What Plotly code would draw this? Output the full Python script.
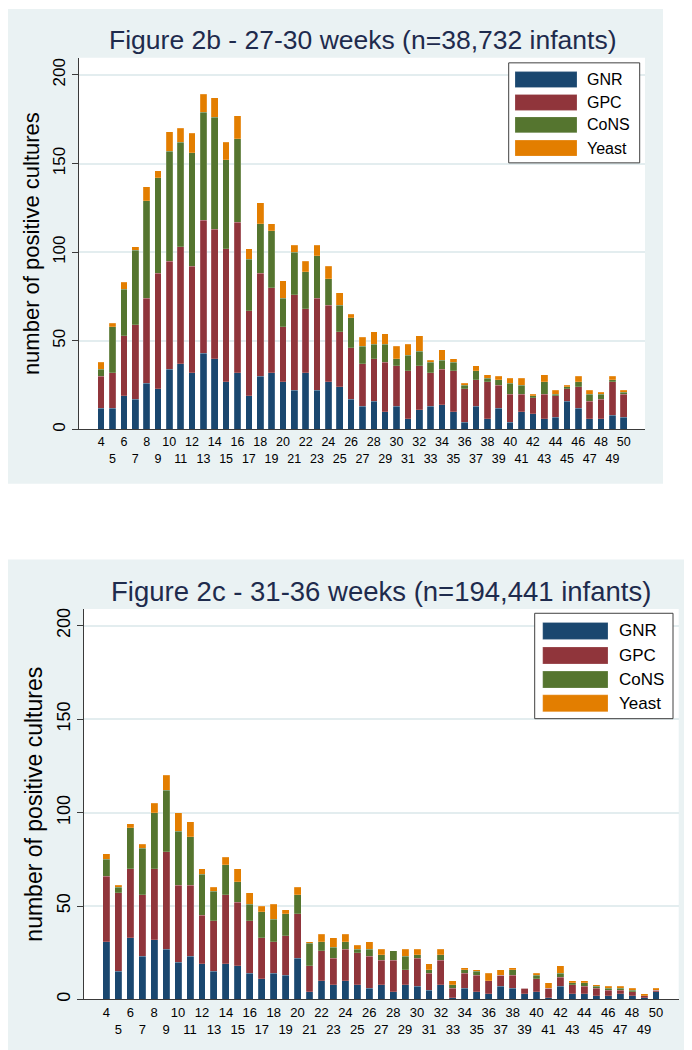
import plotly.graph_objects as go

W, H = 692, 1050

# ---------------- data ----------------
weeks = list(range(4, 51))
series_names = ["GNR", "GPC", "CoNS", "Yeast"]
series_colors = ["#1a476f", "#90353b", "#55752f", "#e37e00"]

# Figure 2b - 27-30 weeks
gnr_b = [12, 12, 19, 17, 26, 23, 34, 37, 32, 43, 40, 27, 32, 19, 30, 32, 27, 22, 32, 22, 27, 24, 17, 13,
         16, 10, 13, 6, 11, 13, 14, 10, 4, 13, 6, 12, 4, 10, 9, 6, 7, 16, 12, 6, 6, 8, 7]
gpc_b = [18, 20, 34, 42, 48, 65, 61, 66, 60, 75, 73, 75, 85, 48, 58, 48, 31, 54, 36, 52, 43, 31, 29, 24,
         24, 28, 23, 27, 25, 19, 20, 23, 19, 15, 21, 13, 16, 10, 9, 14, 12, 7, 12, 10, 11, 19, 13]
cons_b = [4, 26, 26, 42, 55, 54, 62, 59, 64, 61, 63, 50, 47, 29, 28, 32, 16, 24, 21, 24, 15, 15, 17, 10,
          8, 10, 4, 9, 8, 6, 5, 5, 2, 5, 2, 3, 6, 5, 1, 7, 1, 1, 3, 4, 3, 1, 1]
yeast_b = [4, 2, 4, 2, 8, 4, 11, 8, 11, 10, 11, 10, 13, 6, 12, 4, 10, 4, 6, 6, 7, 7, 2, 5,
           7, 6, 7, 6, 9, 1, 6, 2, 1, 3, 2, 2, 3, 4, 1, 4, 2, 1, 3, 2, 1, 2, 1]

# Figure 2c - 31-36 weeks
gnr_c = [31, 15, 33, 23, 32, 27, 20, 23, 19, 15, 19, 18, 14, 11, 14, 13, 22, 4, 10, 8, 10, 8, 6, 8,
         4, 8, 7, 5, 8, 1, 6, 4, 3, 7, 6, 3, 4, 1, 7, 3, 3, 2, 2, 3, 2, 1, 4]
gpc_c = [35, 42, 37, 33, 38, 52, 41, 38, 26, 27, 37, 34, 28, 22, 17, 21, 24, 14, 16, 14, 17, 17, 17, 13,
         17, 8, 15, 9, 13, 5, 8, 9, 7, 6, 7, 3, 7, 5, 5, 5, 4, 4, 3, 2, 2, 1, 1]
cons_c = [9, 3, 22, 25, 30, 33, 29, 26, 22, 16, 16, 11, 9, 14, 12, 12, 10, 12, 5, 6, 4, 2, 4, 3,
          5, 7, 2, 2, 3, 2, 2, 2, 0, 0, 3, 0, 2, 0, 2, 1, 2, 1, 1, 1, 1, 0, 0]
yeast_c = [3, 1, 2, 2, 5, 8, 10, 8, 3, 2, 4, 7, 6, 3, 8, 2, 4, 1, 4, 5, 4, 2, 4, 3,
           0, 4, 3, 3, 3, 2, 1, 1, 4, 3, 1, 0, 1, 3, 4, 1, 1, 1, 1, 1, 1, 1, 1]

y_ticks = [0, 50, 100, 150, 200]
# staggered week labels: even weeks on the first row, odd weeks on the second row
x_ticktext = [str(w) if w % 2 == 0 else "<br>" + str(w) for w in weeks]
title_b = "Figure 2b - 27-30 weeks (n=38,732 infants)"
title_c = "Figure 2c - 31-36 weeks (n=194,441 infants)"
y_title = "number of positive cultures"

# ---------------- helpers ----------------
def px(x):
    return x / W


def py(y):
    return 1 - y / H


FONT = "Arial, 'Liberation Sans', Helvetica, sans-serif"
BG = "#eaf2f3"
GRID = "#e3edef"
AXC = "#3a3a3a"

fig = go.Figure()

panels = [
    dict(data=[gnr_b, gpc_b, cons_b, yeast_b], xa="x", ya="y"),
    dict(data=[gnr_c, gpc_c, cons_c, yeast_c], xa="x2", ya="y2"),
]
for p in panels:
    for name, col, vals in zip(series_names, series_colors, p["data"]):
        fig.add_trace(go.Bar(
            x=weeks, y=vals, name=name, xaxis=p["xa"], yaxis=p["ya"],
            marker=dict(color=col, line=dict(color="rgba(255,255,255,0.35)", width=0.5)),
            width=0.58, showlegend=False,
            hovertemplate=name + " week %{x}: %{y}<extra></extra>",
        ))

# panel geometry (pixels)
top = dict(bg=(0, 0, 655, 476), plot=(71, 49, 637, 421.7), xr=[2.05, 51.87], yr=[0, 209.6],
           tf=12.5, yf=17, titlef=26.5, ytf=22, title_y=31,
           leg_box=(500.7, 54, 631.7, 154.3), sw=(507, 569), rows=[70.8, 93.7, 116.2, 139.5], swh=16,
           tx=577, lf=16, title=title_b)
bot = dict(bg=(0, 552, 692, 1050), plot=(75.7, 601.7, 670.7, 993.3), xr=[2.1, 51.9], yr=[0, 209],
           tf=13, yf=18, titlef=27.5, ytf=23, title_y=584,
           leg_box=(526.7, 606, 665, 711.7), sw=(534.7, 600), rows=[623.7, 648.3, 672.5, 696.3], swh=17,
           tx=609, lf=17, title=title_c)

shapes = []
annotations = []
layout_axes = {}

for i, g in enumerate([top, bot]):
    bx0, by0, bx1, by1 = g["bg"]
    shapes.append(dict(type="rect", xref="paper", yref="paper", x0=px(bx0), x1=px(bx1),
                       y0=py(by1), y1=py(by0), fillcolor=BG, line=dict(width=0), layer="below"))
    x0, y0, x1, y1 = g["plot"]
    shapes.append(dict(type="rect", xref="paper", yref="paper", x0=px(x0), x1=px(x1),
                       y0=py(y1), y1=py(y0), fillcolor="white", line=dict(width=0), layer="below"))
    xn = "xaxis" if i == 0 else "xaxis2"
    yn = "yaxis" if i == 0 else "yaxis2"
    xid = "x" if i == 0 else "x2"
    yid = "y" if i == 0 else "y2"
    layout_axes[xn] = dict(domain=[px(x0), px(x1)], anchor=yid, range=g["xr"], tickmode="array",
                           tickvals=weeks, ticktext=x_ticktext, ticks="", tickangle=0,
                           showline=True, linecolor=AXC, linewidth=1, showgrid=False, zeroline=False,
                           tickfont=dict(family=FONT, size=g["tf"], color="black"),
                           ticklabelstandoff=1)
    layout_axes[yn] = dict(domain=[py(y1), py(y0)], anchor=xid, range=g["yr"], tickmode="array",
                           tickvals=y_ticks, ticks="outside", ticklen=6, tickcolor=AXC, tickangle=-90,
                           showline=True, linecolor=AXC, linewidth=1, showgrid=True, gridcolor=GRID,
                           gridwidth=1.5, zeroline=False,
                           tickfont=dict(family=FONT, size=g["yf"], color="black"),
                           title=dict(text=y_title, font=dict(family=FONT, size=g["ytf"], color="black"),
                                      standoff=4))
    annotations.append(dict(text=g["title"], xref="paper", yref="paper", x=px((x0 + x1) / 2),
                            y=py(g["title_y"]), xanchor="center", yanchor="middle", showarrow=False,
                            font=dict(family=FONT, size=g["titlef"], color="#1e2b4d")))
    # legend (drawn as a key box like the original)
    lx0, ly0, lx1, ly1 = g["leg_box"]
    shapes.append(dict(type="rect", xref="paper", yref="paper", x0=px(lx0), x1=px(lx1),
                       y0=py(ly1), y1=py(ly0), fillcolor="white", line=dict(color="#404040", width=1),
                       layer="above"))
    for name, col, ry in zip(series_names, series_colors, g["rows"]):
        shapes.append(dict(type="rect", xref="paper", yref="paper", x0=px(g["sw"][0]), x1=px(g["sw"][1]),
                           y0=py(ry + g["swh"] / 2), y1=py(ry - g["swh"] / 2), fillcolor=col,
                           line=dict(color="rgba(255,255,255,0.4)", width=0.5), layer="above"))
        annotations.append(dict(text=name, xref="paper", yref="paper", x=px(g["tx"]), y=py(ry),
                                xanchor="left", yanchor="middle", showarrow=False,
                                font=dict(family=FONT, size=g["lf"], color="black")))

fig.update_layout(
    width=W, height=H, margin=dict(l=0, r=0, t=0, b=0),
    paper_bgcolor="white", plot_bgcolor="rgba(0,0,0,0)",
    barmode="stack", bargap=0.42, showlegend=False,
    shapes=shapes, annotations=annotations,
    font=dict(family=FONT),
    **layout_axes,
)

fig.write_html("out.html")
